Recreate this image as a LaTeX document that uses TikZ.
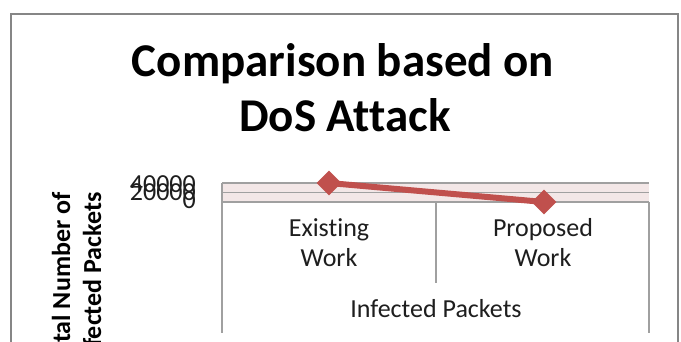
\documentclass[tikz,border=0pt]{standalone}
\usepackage{fontspec}
\setmainfont{Carlito}[Ligatures=NoCommon]
\usetikzlibrary{shapes.geometric}
\definecolor{seriesRed}{RGB}{192,80,77}
\definecolor{bandFill}{RGB}{243,231,231}
\definecolor{gridGray}{RGB}{160,160,160}
\definecolor{frameGray}{RGB}{134,134,134}
\definecolor{labelInk}{RGB}{30,30,30}
\begin{document}
\begin{tikzpicture}[x=1pt,y=-1pt,
  charttitle/.style={font=\fontsize{47}{55}\selectfont\bfseries, inner sep=0pt, anchor=base},
  catlabel/.style={font=\fontsize{26}{31}\selectfont, text=labelInk, inner sep=0pt, anchor=base},
  ticklabel/.style={font=\fontsize{26}{31}\selectfont, text=labelInk, inner sep=0pt, anchor=base east},
  axistitle/.style={font=\fontsize{26}{31}\selectfont\bfseries, inner sep=0pt, anchor=base, rotate=90},
  gridline/.style={draw=gridGray, line width=1.2pt},
  axisline/.style={draw=gridGray, line width=1.2pt},
  seriesline/.style={draw=seriesRed, line width=6pt},
  marker/.style={diamond, fill=seriesRed, minimum width=25pt, minimum height=25pt, inner sep=0pt}]
\useasboundingbox (0,0) rectangle (681,342);
\clip (0,0) rectangle (681,342);
\fill[white] (0,0) rectangle (681,342);

% chart frame (bottom edge lies below the visible area)
\draw[frameGray, line width=2.5pt] (11,14) rectangle (678,420);

% title
\node[charttitle] (title1) at (343,77) {Comparison based on};
\node[charttitle] (title2) at (345,132) {DoS Attack};

% plot area band and gridlines
\fill[bandFill] (222,183) rectangle (649,202);
\draw[gridline] (222,183) -- (649,183);
\draw[gridline] (222,192.5) -- (649,192.5);
\draw[axisline] (222,202) -- (649,202);
\draw[axisline] (222,183) -- (222,333);
\draw[axisline] (649,202) -- (649,333);
\draw[axisline] (436,202) -- (436,283);

% value axis labels
\node[ticklabel] (t40) at (196,193) {40000};
\node[ticklabel] (t20) at (196,201) {20000};
\node[ticklabel] (t0)  at (196,209) {0};

% value axis title
\node[axistitle] (ytitle1) at (70,280) {Total Number of};
\node[axistitle] (ytitle2) at (101,280) {Infected Packets};

% category labels
\node[catlabel] (cat1a) at (329,237) {Existing};
\node[catlabel] (cat1b) at (329,267) {Work};
\node[catlabel] (cat2a) at (543,237) {Proposed};
\node[catlabel] (cat2b) at (543,267) {Work};
\node[catlabel] (cattitle) at (436,317) {Infected Packets};

% data series
\coordinate (ptExisting) at (329,183);
\coordinate (ptProposed) at (544,202);
\draw[seriesline] (ptExisting) -- (ptProposed);
\node[marker] (existing) at (ptExisting) {};
\node[marker] (proposed) at (ptProposed) {};
\end{tikzpicture}
\end{document}
